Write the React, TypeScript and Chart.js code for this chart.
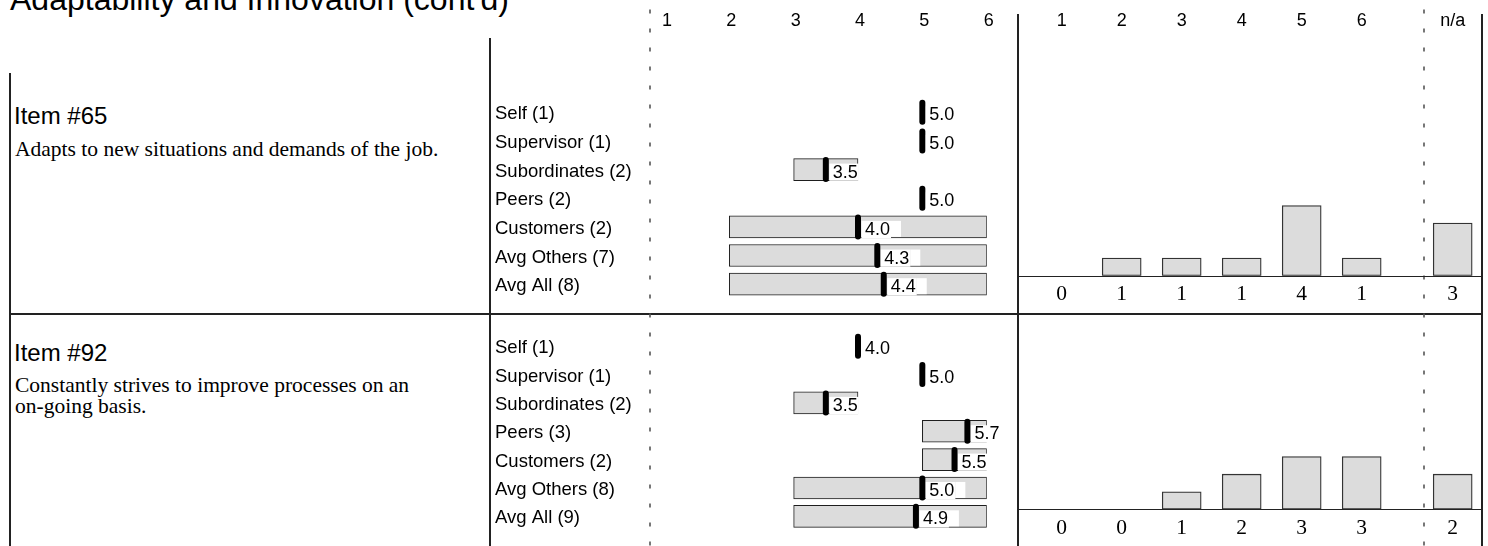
import React, { useEffect, useRef } from 'react';
import { Chart, registerables } from 'chart.js';
Chart.register(...registerables);

// ---------------- data ----------------
const TITLE = "Adaptability and Innovation (cont'd)";
const scaleTicks = [1, 2, 3, 4, 5, 6];
const histCategories = ['1', '2', '3', '4', '5', '6'];
const naCategories = ['n/a'];

const item65Name = 'Item #65';
const item65Desc = ['Adapts to new situations and demands of the job.'];
const item65Rows = ['Self (1)', 'Supervisor (1)', 'Subordinates (2)', 'Peers (2)', 'Customers (2)', 'Avg Others (7)', 'Avg All (8)'];
const item65Low = [null, null, 3, 5, 2, 2, 2];
const item65High = [null, null, 4, 5, 6, 6, 6];
const item65Mean = [5.0, 5.0, 3.5, 5.0, 4.0, 4.3, 4.4];
const item65Counts = [0, 1, 1, 1, 4, 1];
const item65NA = [3];

const item92Name = 'Item #92';
const item92Desc = ['Constantly strives to improve processes on an', 'on-going basis.'];
const item92Rows = ['Self (1)', 'Supervisor (1)', 'Subordinates (2)', 'Peers (3)', 'Customers (2)', 'Avg Others (8)', 'Avg All (9)'];
const item92Low = [null, null, 3, 5, 5, 3, 3];
const item92High = [null, null, 4, 6, 6, 6, 6];
const item92Mean = [4.0, 5.0, 3.5, 5.7, 5.5, 5.0, 4.9];
const item92Counts = [0, 0, 1, 2, 3, 3];
const item92NA = [2];

// ---------------- layout / style ----------------
const SANS = '"Liberation Sans", Arial, sans-serif';
const SERIF = '"Liberation Serif", "Times New Roman", serif';
const PAGE_W = 1488;
const PAGE_H = 546;
const SEP_Y = 314;
const ROW_STEP = 29.05;
const ROW_BAR = 22;
const RANGE_LEFT = 490;
const RANGE_RIGHT = 1018;
const RANGE_X1 = 664.95;
const RANGE_X6 = 986.7;
const HIST_LEFT = 1018;
const HIST_RIGHT = 1424;
const HIST_FIRST = 1061.7;
const HIST_STEP = 60;
const NA_LEFT = 1420;
const NA_RIGHT = 1488;
const NA_CENTER = 1452.7;
const HIST_MAX = 6;
const HIST_UNIT = 17.55;
const HEADER_Y = 20;
const BAR_FILL = '#dcdcdc';

const layouts = [
  { top: 0, height: SEP_Y, rowCenter0: 112.5, histBase: 275.7, header: true, nameBase: 124, descBase: 156 },
  { top: SEP_Y, height: PAGE_H - SEP_Y, rowCenter0: 346.5, histBase: 509.3, header: false, nameBase: 361, descBase: 392 },
];

const items = [
  { name: item65Name, desc: item65Desc, rows: item65Rows, low: item65Low, high: item65High, mean: item65Mean, counts: item65Counts, na: item65NA },
  { name: item92Name, desc: item92Desc, rows: item92Rows, low: item92Low, high: item92High, mean: item92Mean, counts: item92Counts, na: item92NA },
];

type Item = typeof items[number];
type Layout = typeof layouts[number];

function rangeConfig(item: Item, lay: Layout): any {
  const areaH = ROW_STEP * item.rows.length;
  const padTop = lay.rowCenter0 - ROW_STEP / 2 - lay.top;
  const padBottom = lay.height - padTop - areaH;
  const plugin = {
    id: 'rangeDecor',
    beforeDatasetDraw(chart: any, args: any) {
      if (args.index === 1) {
        chart.ctx.save();
        chart.ctx.lineCap = 'round';
        chart.ctx.lineJoin = 'round';
      }
    },
    afterDatasetDraw(chart: any, args: any) {
      if (args.index === 1) chart.ctx.restore();
    },
    afterDatasetsDraw(chart: any) {
      const { ctx } = chart;
      const x = chart.scales.x;
      const y = chart.scales.y;
      ctx.save();
      // row labels
      ctx.font = `18.5px ${SANS}`;
      ctx.fillStyle = '#000';
      ctx.textAlign = 'left';
      ctx.textBaseline = 'middle';
      item.rows.forEach((r, i) => {
        ctx.fillText(r, 5, y.getPixelForValue(i) + 2);
      });
      // value boxes + labels
      ctx.font = `18px ${SANS}`;
      ctx.textBaseline = 'alphabetic';
      item.mean.forEach((m, i) => {
        const mx = x.getPixelForValue(m);
        const cy = y.getPixelForValue(i);
        const label = m.toFixed(1);
        const tw = ctx.measureText(label).width;
        const tx = mx + 7;
        ctx.fillStyle = '#fff';
        ctx.fillRect(mx + 3.5, cy - 6, tx + tw + 1 - (mx + 3.5), 17.2);
        ctx.fillRect(tx + tw + 1, cy - 6, mx + 43 - (tx + tw + 1), 16);
        ctx.fillStyle = '#000';
        ctx.fillText(label, tx, cy + 8);
      });
      if (lay.header) {
        ctx.font = `18px ${SANS}`;
        ctx.textAlign = 'center';
        ctx.textBaseline = 'middle';
        scaleTicks.forEach((v) => {
          ctx.fillText(String(v), x.getPixelForValue(v) + 2, HEADER_Y + 1 - lay.top);
        });
      }
      ctx.restore();
    },
  };
  return {
    type: 'bar',
    data: {
      labels: item.rows,
      datasets: [
        {
          type: 'bar',
          indexAxis: 'y',
          data: item.low.map((l, i) => (l === null ? null : [l, item.high[i]])),
          backgroundColor: BAR_FILL,
          borderColor: '#1e1e1e',
          borderWidth: 1,
          borderSkipped: false,
          barThickness: ROW_BAR,
          order: 2,
        },
        {
          type: 'line',
          indexAxis: 'y',
          data: item.mean,
          showLine: false,
          pointStyle: 'line',
          rotation: 90,
          radius: 9.5,
          borderWidth: 6,
          borderColor: '#000',
          backgroundColor: '#000',
          clip: false,
          order: 1,
        },
      ],
    },
    options: {
      indexAxis: 'y',
      responsive: false,
      animation: false,
      devicePixelRatio: 1,
      events: [],
      layout: { padding: { left: RANGE_X1 - RANGE_LEFT, right: RANGE_RIGHT - RANGE_X6, top: padTop, bottom: padBottom } },
      scales: {
        x: { type: 'linear', min: 1, max: 6, display: false },
        y: { type: 'category', offset: true, display: false },
      },
      plugins: { legend: { display: false }, tooltip: { enabled: false }, title: { display: false } },
    },
    plugins: [plugin],
  };
}

function histConfig(labels: string[], values: number[], lay: Layout, left: number, right: number, firstCenter: number, lineFrom: number, lineTo: number): any {
  const padTop = lay.histBase - HIST_MAX * HIST_UNIT - lay.top;
  const padBottom = lay.top + lay.height - lay.histBase;
  const padLeft = firstCenter - HIST_STEP / 2 - left;
  const padRight = right - (firstCenter + HIST_STEP * (labels.length - 0.5));
  const plugin = {
    id: 'histDecor',
    beforeDatasetsDraw(chart: any) {
      const { ctx } = chart;
      const by = chart.scales.y.getPixelForValue(0);
      ctx.save();
      ctx.strokeStyle = '#222';
      ctx.lineWidth = 1;
      ctx.beginPath();
      ctx.moveTo(lineFrom - left, Math.round(by) + 0.5);
      ctx.lineTo(lineTo - left, Math.round(by) + 0.5);
      ctx.stroke();
      ctx.restore();
    },
    afterDatasetsDraw(chart: any) {
      const { ctx } = chart;
      const x = chart.scales.x;
      const by = chart.scales.y.getPixelForValue(0);
      ctx.save();
      ctx.fillStyle = '#000';
      ctx.textAlign = 'center';
      ctx.textBaseline = 'middle';
      ctx.font = `21.5px ${SERIF}`;
      values.forEach((v, i) => ctx.fillText(String(v), x.getPixelForValue(i), by + 19));
      if (lay.header) {
        ctx.font = `18px ${SANS}`;
        labels.forEach((l, i) => ctx.fillText(l, x.getPixelForValue(i), HEADER_Y + 1 - lay.top));
      }
      ctx.restore();
    },
  };
  return {
    type: 'bar',
    data: {
      labels,
      datasets: [
        {
          data: values,
          backgroundColor: BAR_FILL,
          borderColor: '#333',
          borderWidth: 1.3,
          borderSkipped: false,
          barThickness: 39,
        },
      ],
    },
    options: {
      responsive: false,
      animation: false,
      devicePixelRatio: 1,
      events: [],
      layout: { padding: { left: padLeft, right: padRight, top: padTop, bottom: padBottom } },
      scales: {
        x: { type: 'category', offset: true, display: false },
        y: { type: 'linear', min: 0, max: HIST_MAX, display: false },
      },
      plugins: { legend: { display: false }, tooltip: { enabled: false }, title: { display: false } },
    },
    plugins: [plugin],
  };
}

function ChartBox({ left, top, width, height, make }: { left: number; top: number; width: number; height: number; make: () => any }) {
  const ref = useRef<HTMLCanvasElement>(null);
  useEffect(() => {
    const chart = new Chart(ref.current as HTMLCanvasElement, make());
    return () => chart.destroy();
  }, []);
  return (
    <canvas
      ref={ref}
      width={width}
      height={height}
      style={{ position: 'absolute', left, top, width, height, display: 'block' }}
    />
  );
}

export default function App() {
  const frame = '#222';
  const dash = '#555';
  return (
    <div style={{ position: 'fixed', left: 0, top: 0, width: PAGE_W, height: PAGE_H, overflow: 'hidden', background: '#fff' }}>
      <svg width={PAGE_W} height={PAGE_H} style={{ position: 'absolute', left: 0, top: 0 }}>
        <text x={10} y={10} fontFamily={SANS} fontSize={32} fill="#000">{TITLE}</text>
        {items.map((it, k) => (
          <g key={it.name}>
            <text x={14} y={layouts[k].nameBase} fontFamily={SANS} fontSize={24} fill="#000">{it.name}</text>
            {it.desc.map((line, j) => (
              <text key={j} x={15} y={layouts[k].descBase + j * 21} fontFamily={SERIF} fontSize={21.5} fill="#000">{line}</text>
            ))}
          </g>
        ))}
        <line x1={10} y1={73} x2={10} y2={PAGE_H} stroke={frame} strokeWidth={2} />
        <line x1={490} y1={38} x2={490} y2={PAGE_H} stroke={frame} strokeWidth={2} />
        <line x1={1018} y1={14} x2={1018} y2={PAGE_H} stroke={frame} strokeWidth={2} />
        <line x1={1482} y1={14} x2={1482} y2={PAGE_H} stroke={frame} strokeWidth={2} />
        <line x1={9} y1={SEP_Y} x2={1483} y2={SEP_Y} stroke={frame} strokeWidth={2} />
        <line x1={650} y1={9.5} x2={650} y2={PAGE_H} stroke={dash} strokeWidth={1.6} strokeDasharray="4 15" />
        <line x1={1424} y1={9.5} x2={1424} y2={PAGE_H} stroke={dash} strokeWidth={1.6} strokeDasharray="4 15" />
      </svg>
      {items.map((it, k) => {
        const lay = layouts[k];
        return (
          <React.Fragment key={it.name}>
            <ChartBox left={RANGE_LEFT} top={lay.top} width={RANGE_RIGHT - RANGE_LEFT} height={lay.height} make={() => rangeConfig(it, lay)} />
            <ChartBox left={HIST_LEFT} top={lay.top} width={HIST_RIGHT - HIST_LEFT} height={lay.height}
              make={() => histConfig(histCategories, it.counts, lay, HIST_LEFT, HIST_RIGHT, HIST_FIRST, HIST_LEFT, HIST_RIGHT)} />
            <ChartBox left={NA_LEFT} top={lay.top} width={NA_RIGHT - NA_LEFT} height={lay.height}
              make={() => histConfig(naCategories, it.na, lay, NA_LEFT, NA_RIGHT, NA_CENTER, HIST_RIGHT, 1482)} />
          </React.Fragment>
        );
      })}
    </div>
  );
}
